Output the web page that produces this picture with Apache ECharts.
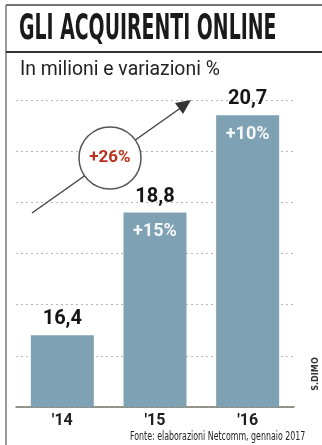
<!DOCTYPE html>
<html><head><meta charset="utf-8">
<style>html,body{margin:0;padding:0;background:#fff;}#c{width:322px;height:445px;}</style>
<script src="https://cdn.jsdelivr.net/npm/echarts@6/dist/echarts.min.js"></script>
</head><body><div id="c"></div>
<script>
var categories = ["'14", "'15", "'16"];
var values = [16.4, 18.8, 20.7];
var valueLabels = ["16,4", "18,8", "20,7"];
var changeLabels = ["", "+15%", "+10%"];
var totalChange = "+26%";
var yMin = 15, yMax = 21, yStep = 1;

var chart = echarts.init(document.getElementById('c'), null, {renderer: 'canvas'});
var barColor = '#7ea1b3';
chart.setOption({
  animation: false,
  backgroundColor: '#fff',
  grid: {left: 16, right: 28, top: 100, bottom: 38},
  xAxis: {
    type: 'category', data: categories,
    axisLine: {lineStyle: {color: '#77776a', width: 1.5}},
    axisTick: {show: false},
    axisLabel: {color: '#1e1e1e', fontWeight: 'bold', fontSize: 16, fontFamily: 'Roboto', margin: 6}
  },
  yAxis: {
    type: 'value', min: yMin, max: yMax, interval: yStep,
    axisLine: {show: false}, axisTick: {show: false}, axisLabel: {show: false},
    splitLine: {lineStyle: {color: '#b8b8b8', type: [2, 3], width: 1}}
  },
  series: [
    {
      type: 'bar', data: values, barWidth: '68%', z: 2,
      itemStyle: {color: barColor},
      label: {show: true, position: 'top', distance: 6,
        formatter: function(p){ return valueLabels[p.dataIndex]; },
        color: '#151515', fontWeight: 'bold', fontSize: 20, fontFamily: 'Roboto'}
    },
    {
      type: 'bar', data: values, barWidth: '68%', barGap: '-100%', z: 3,
      itemStyle: {color: 'rgba(0,0,0,0)'},
      label: {show: true, position: 'insideTop', distance: 10,
        formatter: function(p){ return changeLabels[p.dataIndex]; },
        color: '#f4f6f7', fontWeight: 'bold', fontSize: 18, fontFamily: 'Roboto'}
    }
  ],
  graphic: [
    {type: 'line', shape: {x1: 6, y1: 5, x2: 322, y2: 5}, style: {stroke: '#444', lineWidth: 1.5}},
    {type: 'line', shape: {x1: 6, y1: 5, x2: 6, y2: 445}, style: {stroke: '#777', lineWidth: 1.5}},
    {type: 'line', shape: {x1: 6, y1: 52, x2: 322, y2: 52}, style: {stroke: '#333', lineWidth: 2}},
    {type: 'text', x: 19, y: 12, scaleX: 0.60, style: {text: 'GLI ACQUIRENTI ONLINE', fill: '#1a1a1a', font: 'bold 35px "DejaVu Sans Condensed"'}},
    {type: 'text', x: 20, y: 60, scaleX: 0.97, style: {text: 'In milioni e variazioni %', fill: '#222', font: '20px "Roboto"'}},
    {type: 'line', shape: {x1: 32, y1: 213, x2: 182, y2: 107}, style: {stroke: '#444', lineWidth: 1.5}, z: 10},
    {type: 'polygon', shape: {points: [[191, 100], [175, 103], [183, 114]]}, style: {fill: '#333'}, z: 10},
    {type: 'circle', shape: {cx: 110, cy: 158, r: 31}, style: {fill: '#fff', stroke: '#555', lineWidth: 1.5}, z: 11},
    {type: 'text', x: 110, y: 158, z: 12, style: {text: totalChange, fill: '#b8321f', font: 'bold 17px "Roboto"', align: 'center', verticalAlign: 'middle'}},
    {type: 'text', x: 130, y: 431, scaleX: 0.73, style: {text: 'Fonte: elaborazioni Netcomm, gennaio 2017', fill: '#222', font: '12px "DejaVu Sans Condensed"'}},
    {type: 'text', x: 320, y: 374, rotation: Math.PI/2, style: {text: 'S.DIMO', fill: '#333', font: 'bold 9px "DejaVu Sans Condensed"', align: 'center', verticalAlign: 'bottom'}}
  ]
});
</script></body></html>
